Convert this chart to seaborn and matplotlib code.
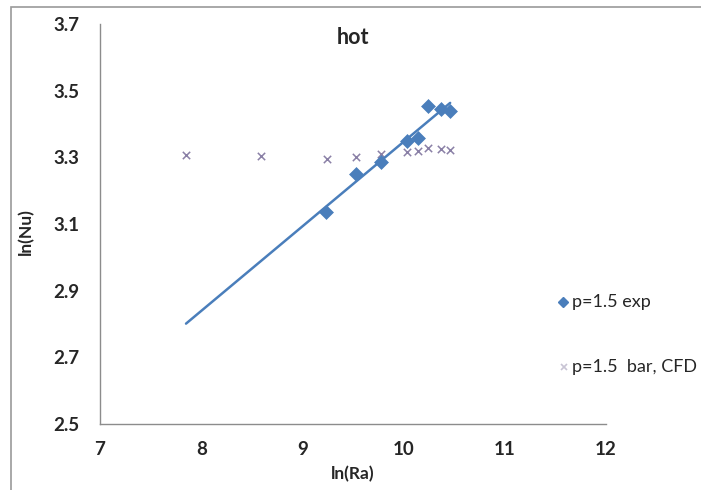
import numpy as np
import pandas as pd
import seaborn as sns
import matplotlib.pyplot as plt
from matplotlib.patches import Rectangle
from matplotlib.lines import Line2D

# p=1.5 exp
exp_x = [9.23, 9.53, 9.78, 10.03, 10.14, 10.24, 10.37, 10.46]
exp_y = [3.136, 3.25, 3.287, 3.349, 3.357, 3.454, 3.444, 3.44]

# p=1.5 bar, CFD
cfd_x = [7.85, 8.59, 9.24, 9.53, 9.78, 10.03, 10.14, 10.24, 10.37, 10.46]
cfd_y = [3.307, 3.303, 3.294, 3.302, 3.31, 3.317, 3.32, 3.329, 3.325, 3.322]

x_ticks = [7, 8, 9, 10, 11, 12]
y_ticks = [2.5, 2.7, 2.9, 3.1, 3.3, 3.5, 3.7]
trend_start = 7.85

exp_df = pd.DataFrame({'x': exp_x, 'y': exp_y})
cfd_df = pd.DataFrame({'x': cfd_x, 'y': cfd_y})

# linear trendline through the experimental points, forecast backward
slope, icpt = np.polyfit(exp_x, exp_y, 1)
tx = np.array([trend_start, max(exp_x)])
trend_df = pd.DataFrame({'x': tx, 'y': slope * tx + icpt})

sns.set_style('white')
plt.rcParams['font.family'] = ['Lato', 'DejaVu Sans']

blue = '#4a7ebb'
cross = '#8a80a6'
axis_gray = '#8c8c8c'
txt = '#262626'

fig = plt.figure(figsize=(7.01, 4.9), dpi=100)
ax = fig.add_axes([100 / 701, 1 - 424 / 490, 506 / 701, 400 / 490])

sns.lineplot(data=trend_df, x='x', y='y', ax=ax, color=blue, linewidth=1.8)
sns.scatterplot(data=cfd_df, x='x', y='y', ax=ax, marker='x', s=28,
                color=cross, linewidth=1.1)
sns.scatterplot(data=exp_df, x='x', y='y', ax=ax, marker='D', s=50,
                color=blue, edgecolor=blue, linewidth=0.5, zorder=4)

ax.set_xlim(7, 12)
ax.set_ylim(2.5, 3.7)
ax.set_xticks(x_ticks)
ax.set_yticks(y_ticks)
ax.set_xticklabels([str(t) for t in x_ticks])
ax.set_yticklabels([f'{t:.1f}' for t in y_ticks])

for s in ['top', 'right']:
    ax.spines[s].set_visible(False)
for s in ['left', 'bottom']:
    ax.spines[s].set_color(axis_gray)
    ax.spines[s].set_linewidth(1.0)

ax.tick_params(axis='x', direction='out', length=7, width=1, color=axis_gray,
               labelsize=13.5, labelcolor=txt, pad=5)
ax.tick_params(axis='y', direction='out', length=5, width=1, color=axis_gray,
               labelsize=13.5, labelcolor=txt, pad=10)
for lab in ax.get_xticklabels() + ax.get_yticklabels():
    lab.set_fontweight('bold')

ax.set_xlabel('ln(Ra)', fontsize=12.5, fontweight='bold', color=txt, labelpad=6)
ax.set_ylabel('ln(Nu)', fontsize=12.5, fontweight='bold', color=txt)
ax.yaxis.set_label_coords(-0.13, 0.48)

ax.text(0.5, 0.965, 'hot', transform=ax.transAxes, ha='center', va='center',
        fontsize=15.5, fontweight='bold', color=txt)

# legend entries placed to the right of the plot area
fig.add_artist(Line2D([563 / 701], [1 - 302 / 490], marker='D', markersize=5,
                      color=blue, linestyle='none', transform=fig.transFigure))
fig.text(572 / 701, 1 - 302 / 490, 'p=1.5 exp', fontsize=13, color=txt,
         va='center', ha='left')
fig.add_artist(Line2D([564 / 701], [1 - 367 / 490], marker='x', markersize=5,
                      color='#c8c4d4', linestyle='none', markeredgewidth=1.2,
                      transform=fig.transFigure))
fig.text(572 / 701, 1 - 367 / 490, 'p=1.5  bar, CFD', fontsize=13, color=txt,
         va='center', ha='left')

# chart area frame
fig.add_artist(Rectangle((11 / 701, -0.05), 1.2, 1 - 7 / 490 + 0.05,
                         transform=fig.transFigure, fill=False,
                         edgecolor='#9a9a9a', linewidth=1.2))

fig.savefig('out.png', dpi=100)
